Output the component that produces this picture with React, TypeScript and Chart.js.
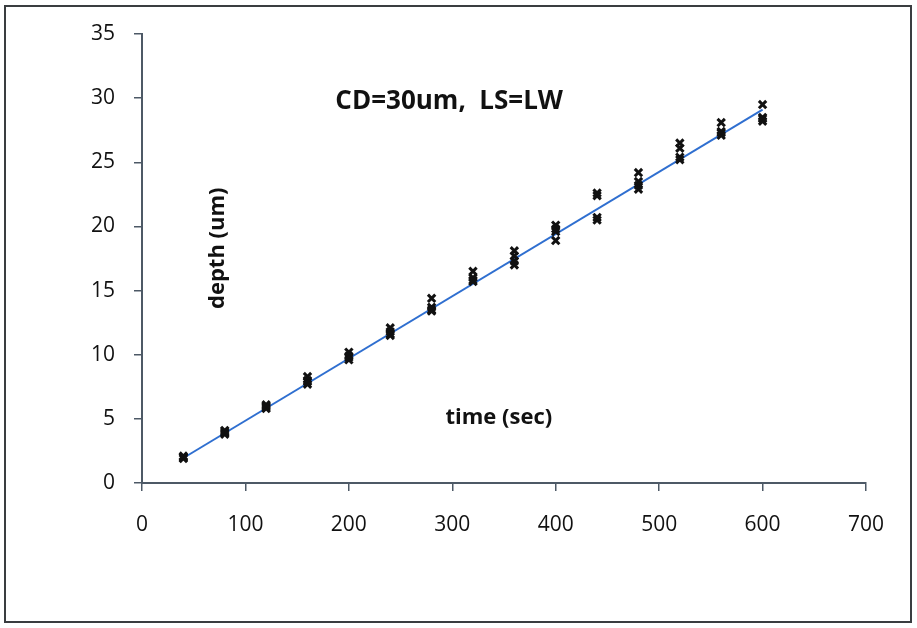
import React, { useEffect, useRef } from "react";
import { Chart, registerables } from "chart.js";

Chart.register(...registerables);

// sample times (sec)
const times = [40, 80, 120, 160, 200, 240, 280, 320, 360, 400, 440, 480, 520, 560, 600];
// measured depths (um), several runs
const runA = [2.1, 4.1, 6.1, 8.3, 10.2, 12.1, 14.4, 16.5, 18.1, 20.1, 22.6, 24.2, 26.5, 28.1, 29.5];
const runB = [2.0, 4.0, 6.0, 8.0, 9.9, 11.8, 13.7, 16.0, 17.7, 19.8, 22.4, 23.5, 26.1, 27.4, 28.5];
const runC = [1.9, 3.8, 5.8, 7.7, 9.6, 11.5, 13.4, 15.7, 17.0, 18.9, 20.7, 22.9, 25.2, 27.1, 28.2];
const runD = [2.0, 3.9, 5.9, 7.9, 9.8, 11.6, 13.5, 15.8, 17.3, 19.6, 20.5, 23.2, 25.4, 27.3, 28.4];
// linear trendline endpoints
const trendX = [40, 600];
const trendY = [1.95, 29.1];

const xTicks = [0, 100, 200, 300, 400, 500, 600, 700];
const yTicks = [0, 5, 10, 15, 20, 25, 30, 35];

const titleText = "CD=30um,  LS=LW";
const yTitle = "depth (um)";
const xTitle = "time (sec)";

const FONT = "'Open Sans', 'Liberation Sans', sans-serif";

export default function App() {
  const ref = useRef<HTMLCanvasElement | null>(null);

  useEffect(() => {
    if (!ref.current) return;
    const runs = [runA, runB, runC, runD];
    const scatterSets = runs.map((r, i) => ({
      type: "scatter" as const,
      label: "run" + (i + 1),
      data: times.map((t, k) => ({ x: t, y: r[k] })),
      pointStyle: "crossRot" as const,
      pointRadius: 5.2,
      borderColor: "#111111",
      backgroundColor: "#111111",
      borderWidth: 3,
      showLine: false,
    }));

    const framePlugin = {
      id: "frameAndText",
      beforeDraw(chart: any) {
        const c = chart.ctx;
        c.save();
        c.fillStyle = "#ffffff";
        c.fillRect(0, 0, chart.width, chart.height);
        c.strokeStyle = "#3a3d40";
        c.lineWidth = 2;
        c.strokeRect(5, 6, chart.width - 11, chart.height - 12);
        c.restore();
      },
      afterDraw(chart: any) {
        const c = chart.ctx;
        const xs = chart.scales.x;
        const ys = chart.scales.y;
        c.save();
        c.fillStyle = "#111111";
        c.textAlign = "center";
        c.textBaseline = "middle";
        c.font = `bold 26px ${FONT}`;
        c.fillText(titleText, xs.getPixelForValue(297), ys.getPixelForValue(29.7));
        c.font = `bold 22px ${FONT}`;
        c.fillText(xTitle, xs.getPixelForValue(345), ys.getPixelForValue(5.1));
        c.translate(xs.getPixelForValue(73), ys.getPixelForValue(18.3));
        c.rotate(-Math.PI / 2);
        c.fillText(yTitle, 0, 0);
        c.restore();
      },
    };

    const chart = new Chart(ref.current, {
      type: "scatter",
      data: {
        datasets: [
          ...scatterSets,
          {
            type: "line" as const,
            label: "fit",
            data: trendX.map((x, i) => ({ x, y: trendY[i] })),
            borderColor: "#2f6fd0",
            borderWidth: 2,
            pointRadius: 0,
            showLine: true,
            fill: false,
          },
        ],
      } as any,
      options: {
        responsive: false,
        animation: false,
        devicePixelRatio: 1,
        layout: { padding: { left: 0, right: 51, top: 34, bottom: 0 } },
        plugins: { legend: { display: false }, tooltip: { enabled: false }, title: { display: false } },
        scales: {
          x: {
            type: "linear",
            min: 0,
            max: 700,
            afterFit: (s: any) => {
              s.height = 145;
            },
            afterBuildTicks: (s: any) => {
              s.ticks = xTicks.map((v) => ({ value: v }));
            },
            grid: { drawOnChartArea: false, drawTicks: true, tickLength: 8, color: "#4d5966", lineWidth: 1.5 },
            border: { color: "#4d5966", width: 2 },
            ticks: { color: "#111111", padding: 21, font: { family: FONT, size: 21 } },
          },
          y: {
            type: "linear",
            min: 0,
            max: 35,
            afterFit: (s: any) => {
              s.width = 142;
            },
            afterBuildTicks: (s: any) => {
              s.ticks = yTicks.map((v) => ({ value: v }));
            },
            grid: { drawOnChartArea: false, drawTicks: true, tickLength: 8, color: "#4d5966", lineWidth: 1.5 },
            border: { color: "#4d5966", width: 2 },
            ticks: { color: "#111111", padding: 19, font: { family: FONT, size: 21 } },
          },
        },
      },
      plugins: [framePlugin],
    } as any);
    return () => chart.destroy();
  }, []);

  return (
    <div style={{ position: "fixed", left: 0, top: 0, width: 917, height: 628, background: "#fff" }}>
      <canvas ref={ref} width={917} height={628} style={{ display: "block" }} />
    </div>
  );
}
